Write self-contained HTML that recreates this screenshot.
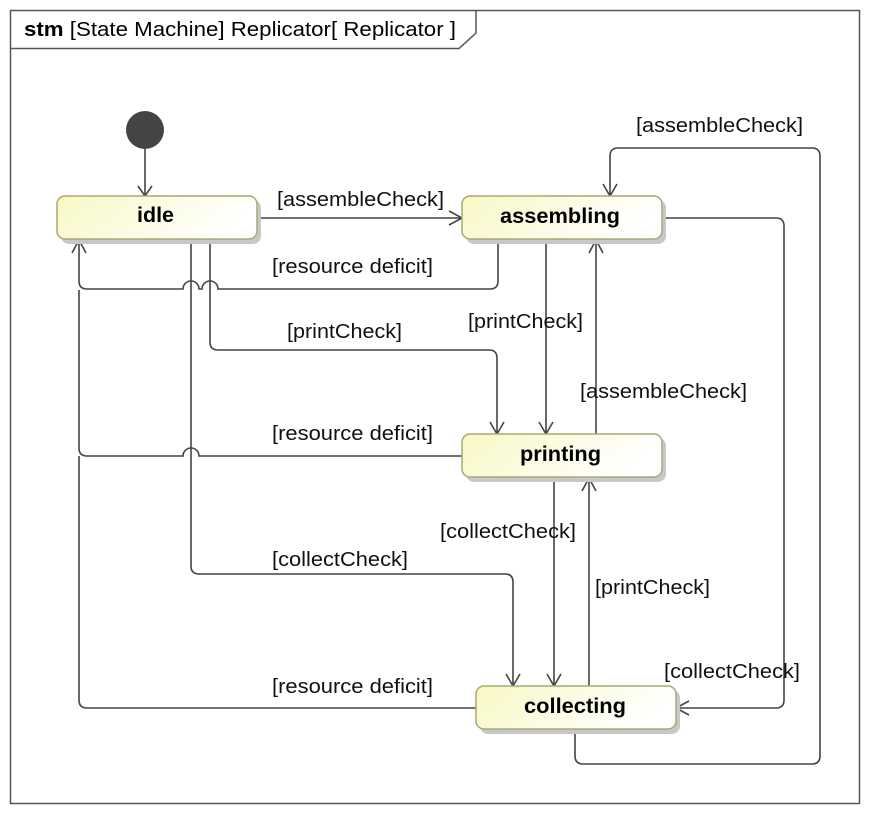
<!DOCTYPE html>
<html><head><meta charset="utf-8"><style>
html,body{margin:0;padding:0;background:#fff;}
svg{display:block;}
text{font-family:"Liberation Sans",sans-serif;}
</style></head><body>
<svg width="870" height="814" viewBox="0 0 870 814" xmlns="http://www.w3.org/2000/svg">
<defs>
<linearGradient id="g" x1="0" y1="0" x2="1" y2="0.3">
<stop offset="0" stop-color="#f8f8c4"/><stop offset="1" stop-color="#ffffff"/>
</linearGradient>
</defs>
<rect x="10.5" y="10.5" width="849" height="793" fill="#fff" stroke="#555" stroke-width="1.5"/>
<path d="M10.5 48.5 H459 L476 33 V10.5" fill="none" stroke="#555" stroke-width="1.5"/>
<text x="24" y="36" font-size="20" fill="#000" textLength="432" lengthAdjust="spacingAndGlyphs"><tspan font-weight="bold">stm</tspan>  [State Machine] Replicator[ Replicator ]</text>

<g fill="none" stroke="#444" stroke-width="1.6">
<path d="M145 149 V196"/><path d="M138 186 L145 196 L152 186"/>
<path d="M257 218 H462"/><path d="M449 211 L462 218 L449 225"/>
<path d="M498 240 V281 Q498 289 490 289 H218 A8 8 0 0 0 202 289 H199 A8 8 0 0 0 183 289 H87 Q79 289 79 281 V240"/>
<path d="M72 253 L79 240 L86 253"/>
<path d="M210 240 V342 Q210 350 218 350 H489 Q497 350 497 358 V434"/><path d="M490 422 L497 434 L504 422"/>
<path d="M191 240 V566 Q191 574 199 574 H505 Q513 574 513 582 V686"/><path d="M506 674 L513 686 L520 674"/>
<path d="M462 456 H199 A8 8 0 0 0 183 456 H87 Q79 456 79 448 V290"/>
<path d="M476 708 H87 Q79 708 79 700 V456"/>
<path d="M546 240 V434"/><path d="M539 422 L546 434 L553 422"/>
<path d="M596 434 V240"/><path d="M589 253 L596 240 L603 253"/>
<path d="M554 478 V686"/><path d="M547 674 L554 686 L561 674"/>
<path d="M589 686 V478"/><path d="M582 491 L589 478 L596 491"/>
<path d="M662 218 H776 Q784 218 784 226 V700 Q784 708 776 708 H676"/><path d="M689 701 L676 708 L689 715"/>
<path d="M575 730 V756 Q575 764 583 764 H812 Q820 764 820 756 V156 Q820 148 812 148 H618 Q610 148 610 156 V196"/><path d="M603 184 L610 196 L617 184"/>
</g>
<circle cx="145" cy="130" r="19" fill="#444"/>

<g stroke="#a9a774" stroke-width="1.5" fill="url(#g)">
<rect x="61" y="200" width="200" height="44" rx="8" fill="#c8c8c8" stroke="none"/>
<rect x="57" y="196" width="200" height="43" rx="8"/>
<rect x="466" y="200" width="200" height="44" rx="8" fill="#c8c8c8" stroke="none"/>
<rect x="462" y="196" width="200" height="43" rx="8"/>
<rect x="466" y="438" width="200" height="44" rx="8" fill="#c8c8c8" stroke="none"/>
<rect x="462" y="434" width="200" height="43" rx="8"/>
<rect x="480" y="690" width="200" height="44" rx="8" fill="#c8c8c8" stroke="none"/>
<rect x="476" y="686" width="200" height="43" rx="8"/>
</g>
<g font-size="21" font-weight="bold" fill="#000">
<text x="137" y="222" textLength="37" lengthAdjust="spacingAndGlyphs">idle</text>
<text x="500" y="223" textLength="120" lengthAdjust="spacingAndGlyphs">assembling</text>
<text x="520" y="461" textLength="81" lengthAdjust="spacingAndGlyphs">printing</text>
<text x="524" y="713" textLength="102" lengthAdjust="spacingAndGlyphs">collecting</text>
</g>
<g font-size="20" fill="#111">
<text x="277" y="206" textLength="167" lengthAdjust="spacingAndGlyphs">[assembleCheck]</text>
<text x="272" y="273" textLength="161" lengthAdjust="spacingAndGlyphs">[resource deficit]</text>
<text x="287" y="338" textLength="115" lengthAdjust="spacingAndGlyphs">[printCheck]</text>
<text x="468" y="328" textLength="115" lengthAdjust="spacingAndGlyphs">[printCheck]</text>
<text x="580" y="398" textLength="167" lengthAdjust="spacingAndGlyphs">[assembleCheck]</text>
<text x="272" y="440" textLength="161" lengthAdjust="spacingAndGlyphs">[resource deficit]</text>
<text x="440" y="538" textLength="136" lengthAdjust="spacingAndGlyphs">[collectCheck]</text>
<text x="272" y="566" textLength="136" lengthAdjust="spacingAndGlyphs">[collectCheck]</text>
<text x="595" y="594" textLength="115" lengthAdjust="spacingAndGlyphs">[printCheck]</text>
<text x="664" y="678" textLength="136" lengthAdjust="spacingAndGlyphs">[collectCheck]</text>
<text x="272" y="693" textLength="161" lengthAdjust="spacingAndGlyphs">[resource deficit]</text>
<text x="636" y="132" textLength="167" lengthAdjust="spacingAndGlyphs">[assembleCheck]</text>
</g>
</svg>
</body></html>
